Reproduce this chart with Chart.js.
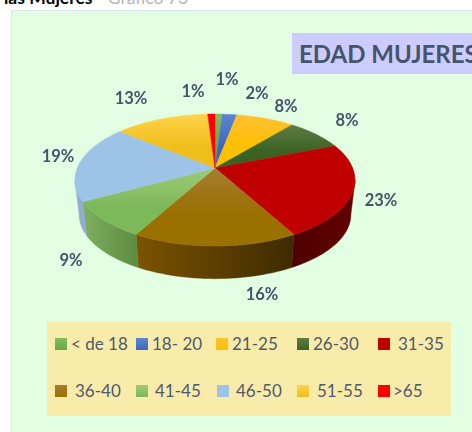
<!DOCTYPE html>
<html>
<head>
<meta charset="utf-8">
<script src="https://cdn.jsdelivr.net/npm/chart.js@4"></script>
<style>
    html, body { margin: 0; padding: 0; background: #fff; overflow: hidden; }
    #page { position: relative; width: 472px; height: 432px; overflow: hidden; font-family: Lato, sans-serif; }
    #heading { position: absolute; left: 4px; top: -13px; font-size: 17.5px; white-space: nowrap; font-weight: bold; color: #000; }
    #heading span { color: #b4b4b4; font-weight: normal; }
    #panel { position: absolute; left: 11px; top: 10px; width: 470px; height: 430px; background: #e3ffe3; border: 1px solid #dde6ee; box-sizing: border-box; }
    #title { position: absolute; left: 292px; top: 33px; width: 190px; height: 41px; line-height: 41px; padding-left: 7px; box-sizing: border-box;
             background: #ccccff; color: #44546a; font-size: 24px; font-weight: bold; white-space: nowrap; }
    #legend { position: absolute; left: 47px; top: 322px; width: 404px; height: 94px; background: #f9ebaa; }
    .item { position: absolute; font-size: 17px; line-height: 20px; color: #4e5a6c; white-space: nowrap; }
    .box { position: absolute; width: 12px; height: 12px; }
    canvas { position: absolute; left: 0; top: 0; }
</style>
</head>
<body>
<div id="page">
    <div id="heading">las Mujeres <span>- Gráfico 73</span></div>
    <div id="panel"></div>
    <div id="title">EDAD MUJERES</div>
    <div id="legend"></div>
    <canvas id="myChart" width="472" height="432"></canvas>
</div>
<script>
const categories = ['< de 18', '18- 20', '21-25', '26-30', '31-35', '36-40', '41-45', '46-50', '51-55', '>65'];
const percentages = [1, 2, 8, 8, 23, 16, 9, 19, 13, 1];

// top face gradient, light to dark
const topColors = ['#84bc5e', '#5b86d0', '#ffc035', '#5d7d46', '#c00000', '#a67c32', '#9dcb78', '#9dc3e6', '#ffd34d', '#ff0000'];
const lowColors = ['#6aa84a', '#3a68be', '#ffc000', '#3b6223', '#c00000', '#9a7000', '#7db85a', '#9dc3e6', '#f0be1a', '#ff0000'];
// side wall gradient, left to right
const wallLeft = ['#5a8a3c', '#2f5597', '#bf9000', '#2c4a18', '#4e0000', '#7b5200', '#7bad5c', '#8fadd2', '#bf9000', '#990000'];
const wallRight = ['#5a8a3c', '#2f5597', '#bf9000', '#2c4a18', '#620000', '#3e2b00', '#5c8a3f', '#8fadd2', '#bf9000', '#990000'];

// where the percentage labels sit around the pie
const labelX = [227, 257, 286, 347, 381, 262, 71, 58, 131, 193];
const labelY = [80, 94, 107, 121, 201, 295, 261, 157, 99, 92];

// legend cells: swatch x, text x, row y
const legendBoxX = [8, 89, 169, 250, 331, 8, 89, 170, 250, 331];
const legendTextX = [24, 105, 185, 266, 351, 28, 108, 189, 270, 346];
const legendRowY = [22, 22, 22, 22, 22, 69, 69, 69, 69, 69];

// projection of the pie disc, fitted to the picture
const cx = 215, apexY = 168, radX = 137.7, radY = 63.8, persp = 0.182;
const wallY = 203, wallScale = 0.97;

// chart.js angle (0 at 3 o'clock) -> point on the tilted top face
function project(angle, level) {
    const t = angle + Math.PI / 2; // clockwise from 12 o'clock
    const d = 1 + persp * Math.cos(t);
    const dx = radX * Math.sin(t) / d;
    const dy = -radY * Math.cos(t) / d;
    if (level === 0) return { x: cx + dx, y: apexY + dy };
    return { x: cx + dx * wallScale, y: wallY + dy * wallScale };
}

function tracePoints(ctx, a0, a1, level) {
    const steps = Math.max(2, Math.ceil(Math.abs(a1 - a0) / 0.02));
    for (let i = 0; i <= steps; i++) {
        const p = project(a0 + (a1 - a0) * i / steps, level);
        ctx.lineTo(p.x, p.y);
    }
}

// vertical extent of a slice, the gradient follows it
function sliceRange(arc) {
    let minY = apexY, maxY = apexY;
    for (let i = 0; i <= 40; i++) {
        const p = project(arc.startAngle + (arc.endAngle - arc.startAngle) * i / 40, 0);
        minY = Math.min(minY, p.y);
        maxY = Math.max(maxY, p.y);
    }
    return [minY, maxY];
}

const pie3d = {
    id: 'pie3d',
    beforeDatasetsDraw(chart) {
        const ctx = chart.ctx;
        const arcs = chart.getDatasetMeta(0).data;
        // wall only shows between the two horizontal extremes of the disc
        const off = Math.acos(-persp);
        const wallFrom = off - Math.PI / 2;
        const wallTo = 2 * Math.PI - off - Math.PI / 2;

        ctx.save();
        arcs.forEach((arc, i) => {
            const a0 = Math.max(arc.startAngle, wallFrom);
            const a1 = Math.min(arc.endAngle, wallTo);
            if (a1 <= a0) return;
            const left = project(a1, 1).x;
            const right = project(a0, 1).x;
            const grad = ctx.createLinearGradient(left, 0, right, 0);
            grad.addColorStop(0, wallLeft[i]);
            grad.addColorStop(1, wallRight[i]);
            ctx.beginPath();
            tracePoints(ctx, a0, a1, 0);
            tracePoints(ctx, a1, a0, 1);
            ctx.closePath();
            ctx.fillStyle = grad;
            ctx.strokeStyle = grad;
            ctx.lineWidth = 0.5;
            ctx.fill();
            ctx.stroke();
        });
        arcs.forEach((arc, i) => {
            const range = sliceRange(arc);
            const grad = ctx.createLinearGradient(0, range[0], 0, range[1]);
            grad.addColorStop(0, topColors[i]);
            grad.addColorStop(0.6, lowColors[i]);
            grad.addColorStop(1, lowColors[i]);
            ctx.beginPath();
            ctx.moveTo(cx, apexY);
            tracePoints(ctx, arc.startAngle, arc.endAngle, 0);
            ctx.closePath();
            ctx.fillStyle = grad;
            ctx.strokeStyle = grad;
            ctx.lineWidth = 0.5;
            ctx.fill();
            ctx.stroke();
        });
        ctx.font = 'bold 16.5px Lato, sans-serif';
        ctx.fillStyle = '#44546a';
        ctx.textAlign = 'center';
        ctx.textBaseline = 'middle';
        percentages.forEach((v, i) => ctx.fillText(v + '%', labelX[i], labelY[i]));
        ctx.restore();
        return false; // the flat pie is replaced by the projected one
    }
};

new Chart(document.getElementById('myChart').getContext('2d'), {
    type: 'pie',
    data: {
        labels: categories,
        datasets: [{ data: percentages, backgroundColor: topColors, borderWidth: 0 }]
    },
    options: {
        responsive: false,
        animation: false,
        plugins: { legend: { display: false }, tooltip: { enabled: false } }
    },
    plugins: [pie3d]
});

const legendEl = document.getElementById('legend');
categories.forEach((name, i) => {
    const box = document.createElement('div');
    box.className = 'box';
    box.style.left = legendBoxX[i] + 'px';
    box.style.top = (legendRowY[i] - 6) + 'px';
    box.style.background = 'linear-gradient(' + topColors[i] + ',' + lowColors[i] + ')';
    legendEl.appendChild(box);
    const item = document.createElement('div');
    item.className = 'item';
    item.textContent = name;
    item.style.left = legendTextX[i] + 'px';
    item.style.top = (legendRowY[i] - 10) + 'px';
    legendEl.appendChild(item);
});
</script>
</body>
</html>
